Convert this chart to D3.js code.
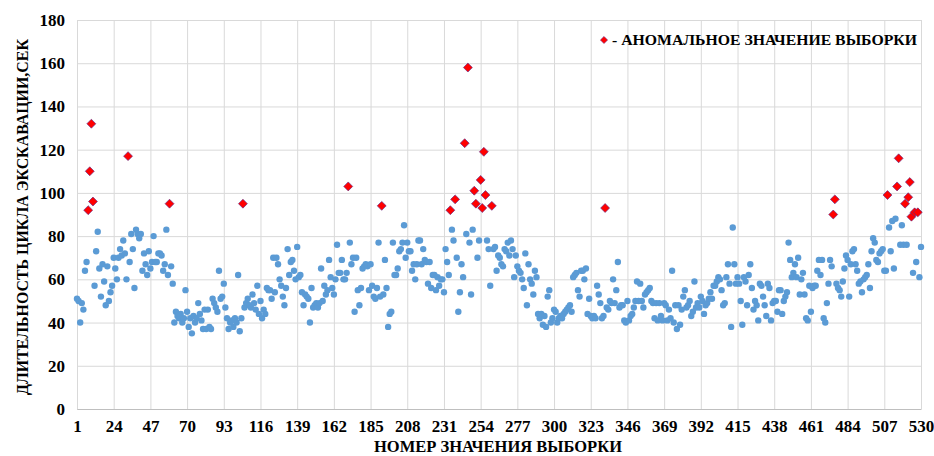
<!DOCTYPE html>
<html>
<head>
<meta charset="utf-8">
<script src="https://cdn.jsdelivr.net/npm/d3@7"></script>
<style>
  body { margin: 0; background: #fff; }
  svg text { font-family: "Liberation Serif", "Times New Roman", serif; font-weight: bold; fill: #000; }
</style>
</head>
<body>
<div id="chart"></div>
<script>
// sample values, in order 1..530 (anomalies included)
const sampleValues = [
  51, 50, 40, 49, 46, 64, 68, 92, 110, 132,
  96, 57, 73, 82, 65, 52, 67, 59, 48, 66,
  50, 54, 57, 70, 65, 60, 70, 74, 71, 78,
  72, 60, 117, 68, 81, 74, 56, 83, 81, 79,
  81, 64, 72, 67, 62, 73, 65, 68, 80, 68,
  68, 72, 72, 71, 64, 67, 83, 62, 95, 66,
  58, 40, 45, 43, 42, 44, 40, 42, 55, 45,
  38, 42, 35, 43, 40, 42, 49, 44, 41, 37,
  46, 37, 46, 38, 37, 51, 49, 47, 45, 64,
  51, 52, 58, 47, 42, 37, 40, 41, 38, 42,
  40, 62, 36, 42, 95, 47, 49, 51, 48, 47,
  53, 49, 46, 57, 44, 50, 42, 46, 44, 56,
  55, 55, 51, 70, 54, 70, 67, 60, 57, 52,
  48, 56, 74, 62, 68, 69, 64, 60, 75, 61,
  62, 54, 48, 53, 52, 51, 40, 56, 47, 48,
  49, 47, 49, 65, 50, 57, 53, 55, 69, 61,
  56, 53, 60, 76, 63, 63, 69, 60, 60, 63,
  103, 77, 67, 70, 45, 70, 55, 48, 56, 65,
  66, 67, 66, 55, 67, 57, 52, 51, 56, 77,
  52, 94, 53, 69, 56, 38, 44, 45, 77, 62,
  62, 65, 73, 74, 77, 85, 70, 77, 73, 73,
  64, 67, 60, 67, 78, 78, 67, 74, 69, 68,
  58, 68, 56, 62, 62, 55, 61, 57, 60, 60,
  54, 74, 68, 62, 92, 83, 78, 97, 70, 45,
  54, 67, 61, 123, 81, 158, 77, 53, 83, 101,
  95, 70, 78, 106, 93, 119, 99, 78, 74, 57,
  94, 74, 75, 64, 71, 70, 67, 66, 74, 73,
  77, 71, 78, 74, 61, 71, 66, 64, 63, 60,
  56, 72, 48, 67, 60, 58, 53, 64, 61, 44,
  42, 44, 39, 43, 38, 52, 55, 40, 42, 46,
  45, 40, 42, 43, 42, 44, 45, 46, 47, 48,
  45, 61, 62, 63, 55, 52, 64, 64, 60, 65,
  44, 51, 43, 42, 43, 42, 57, 53, 49, 42,
  43, 93, 47, 46, 50, 49, 60, 49, 55, 68,
  47, 48, 48, 41, 40, 50, 41, 43, 44, 47,
  50, 59, 50, 58, 50, 47, 53, 54, 55, 56,
  50, 49, 42, 49, 41, 49, 43, 41, 49, 48,
  41, 46, 42, 64, 40, 48, 37, 48, 39, 46,
  52, 55, 47, 48, 50, 43, 45, 59, 47, 49,
  47, 52, 50, 44, 48, 49, 51, 54, 51, 57,
  57, 59, 61, 60, 55, 48, 49, 61, 67, 58,
  38, 84, 67, 58, 61, 58, 50, 39, 61, 59,
  48, 62, 67, 56, 46, 50, 48, 41, 58, 57,
  52, 48, 43, 58, 56, 41, 49, 50, 50, 45,
  55, 55, 44, 50, 52, 54, 77, 69, 61, 63,
  67, 61, 70, 53, 60, 63, 53, 42, 41, 57,
  45, 56, 57, 57, 64, 69, 62, 69, 42, 40,
  49, 58, 69, 66, 90, 97, 58, 56, 55, 52,
  59, 65, 71, 69, 52, 67, 73, 74, 67, 64,
  58, 59, 54, 60, 61, 62, 67, 56, 73, 79,
  77, 69, 68, 72, 73, 74, 64, 64, 99, 84,
  73, 87, 65, 88, 103, 116, 76, 85, 76, 95,
  76, 98, 105, 89, 63, 91, 68, 91, 61, 75
];

// sample numbers flagged as anomalous
const anomalyIndex = [8, 9, 10, 11, 33, 59, 105, 171, 192, 235, 238, 244, 246, 250, 251,
  254, 255, 256, 257, 261, 332, 475, 476, 509, 515, 516, 520, 522, 523, 524, 526, 528];

const xTicks = [1, 24, 47, 70, 93, 116, 139, 162, 185, 208, 231, 254, 277, 300, 323, 346,
  369, 392, 415, 438, 461, 484, 507, 530];
const yTicks = [0, 20, 40, 60, 80, 100, 120, 140, 160, 180];

const legendText = "- АНОМАЛЬНОЕ ЗНАЧЕНИЕ ВЫБОРКИ";
const xTitle = "НОМЕР ЗНАЧЕНИЯ ВЫБОРКИ";
const yTitle = "ДЛИТЕЛЬНОСТЬ ЦИКЛА ЭКСКАВАЦИИ,СЕК";

const W = 934, H = 456;
const margin = {top: 20, right: 13, bottom: 47, left: 77};
const width = W - margin.left - margin.right;
const height = H - margin.top - margin.bottom;

const svg = d3.select("#chart").append("svg")
  .attr("width", W)
  .attr("height", H);
const g = svg.append("g")
  .attr("transform", `translate(${margin.left},${margin.top})`);

const x = d3.scaleLinear().domain([1, 530]).range([0, width]);
const y = d3.scaleLinear().domain([0, 180]).range([height, 0]);

//gridlines
g.append("g")
  .attr("class", "grid")
  .call(d3.axisLeft(y).tickValues(yTicks).tickSize(-width).tickFormat(""))
  .call(s => s.select(".domain").remove())
  .call(s => s.selectAll("line").attr("stroke", "#d9d9d9"));
g.append("g")
  .attr("class", "grid")
  .call(d3.axisBottom(x).tickValues(xTicks).tickSize(height).tickFormat(""))
  .call(s => s.select(".domain").remove())
  .call(s => s.selectAll("line").attr("stroke", "#d9d9d9"));

//axes (labels only)
const yAxis = g.append("g")
  .call(d3.axisLeft(y).tickValues(yTicks).tickSize(0).tickPadding(12));
yAxis.select(".domain").attr("stroke", "#d9d9d9");
yAxis.selectAll("text").style("font-size", "17px");

const xAxis = g.append("g")
  .attr("transform", `translate(0,${height})`)
  .call(d3.axisBottom(x).tickValues(xTicks).tickSize(0).tickPadding(11));
xAxis.select(".domain").attr("stroke", "#bfbfbf");
xAxis.selectAll("text").style("font-size", "17px");

//points
const points = sampleValues.map((v, i) => ({n: i + 1, v: v}));
const normal = points.filter(d => !anomalyIndex.includes(d.n));
const anomal = points.filter(d => anomalyIndex.includes(d.n));

g.append("g")
  .selectAll("circle")
  .data(normal)
  .join("circle")
  .attr("cx", d => x(d.n))
  .attr("cy", d => y(d.v))
  .attr("r", 3.2)
  .attr("fill", "#5b9bd5");

const diamond = d3.symbol().type(d3.symbolSquare).size(40);
g.append("g")
  .selectAll("path")
  .data(anomal)
  .join("path")
  .attr("d", diamond)
  .attr("transform", d => `translate(${x(d.n)},${y(d.v)}) rotate(45)`)
  .attr("fill", "#ff0000")
  .attr("stroke", "#5a2a8a")
  .attr("stroke-width", 0.6);

//legend
svg.append("path")
  .attr("d", d3.symbol().type(d3.symbolSquare).size(26))
  .attr("transform", "translate(604,40) rotate(45)")
  .attr("fill", "#ff0000")
  .attr("stroke", "#5a2a8a")
  .attr("stroke-width", 0.5);
svg.append("text")
  .attr("x", 612)
  .attr("y", 45)
  .attr("textLength", 305)
  .attr("lengthAdjust", "spacingAndGlyphs")
  .style("font-size", "14px")
  .text(legendText);

//axis titles
svg.append("text")
  .attr("x", 498)
  .attr("y", 452)
  .attr("text-anchor", "middle")
  .attr("textLength", 248)
  .attr("lengthAdjust", "spacingAndGlyphs")
  .style("font-size", "16px")
  .text(xTitle);

svg.append("text")
  .attr("transform", "translate(28,217) rotate(-90)")
  .attr("text-anchor", "middle")
  .attr("textLength", 356)
  .attr("lengthAdjust", "spacingAndGlyphs")
  .style("font-size", "17px")
  .text(yTitle);
</script>
</body>
</html>
